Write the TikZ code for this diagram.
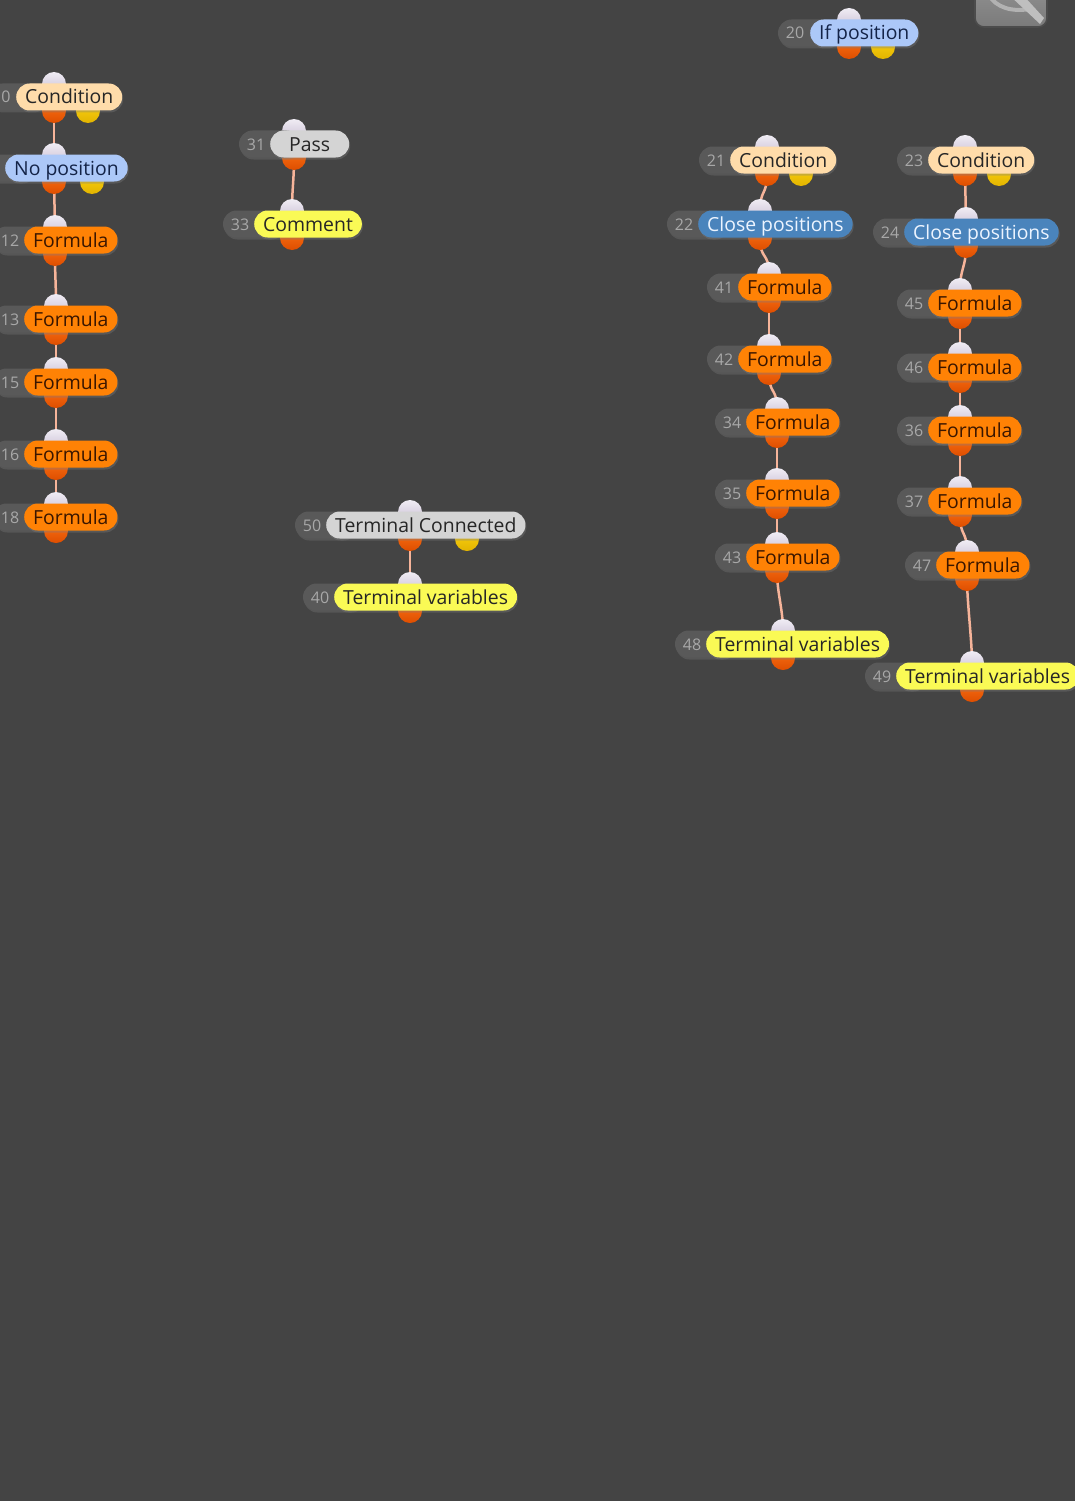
\documentclass[tikz,border=0pt]{standalone}
\usepackage{fontspec}
\setmainfont{Open Sans}
\usetikzlibrary{shadows}
\pgfdeclarelayer{back}
\pgfdeclarelayer{bg}
\pgfsetlayers{back,bg,main}

\definecolor{canvas}{HTML}{444444}
\definecolor{idgrey}{HTML}{595959}
\definecolor{idtext}{HTML}{A8A8A8}
\definecolor{condfill}{HTML}{FFDCAA}
\definecolor{posfill}{HTML}{ACC8F8}
\definecolor{formfill}{HTML}{FF8205}
\definecolor{greyfill}{HTML}{D4D4D4}
\definecolor{notefill}{HTML}{FAFA55}
\definecolor{closefill}{HTML}{4A84BC}
\definecolor{wirecol}{HTML}{F6B49A}

\tikzset{
  pill/.style={rectangle, rounded corners=13.5pt, minimum height=27pt,
    minimum width=79pt, inner xsep=9pt, inner ysep=0pt,
    text height=16pt, text depth=2pt, font=\fontsize{19.4}{22}\selectfont,
    drop shadow={shadow xshift=1pt, shadow yshift=-2pt, opacity=.35}},
  condbox/.style={pill, fill=condfill, text=black!85},
  posbox/.style={pill, fill=posfill, text={rgb,255:red,20;green,36;blue,72}},
  formbox/.style={pill, fill=formfill, text={rgb,255:red,58;green,22;blue,0}},
  greybox/.style={pill, fill=greyfill, text=black!85},
  notebox/.style={pill, fill=notefill, text=black!85},
  closebox/.style={pill, fill=closefill, text={rgb,255:red,236;green,244;blue,255}},
  idpill/.style={fill=idgrey, rounded corners=13.5pt,
    drop shadow={shadow xshift=1pt, shadow yshift=-2pt, opacity=.3}},
  idnum/.style={text=idtext, font=\fontsize{16}{18}\selectfont, inner sep=0pt,
    text height=12pt, text depth=0pt},
  inport/.style={circle, minimum size=24pt, inner sep=0pt,
    top color={rgb,255:red,240;green,236;blue,244}, bottom color={rgb,255:red,196;green,186;blue,208}},
  outport/.style={circle, minimum size=24pt, inner sep=0pt,
    top color={rgb,255:red,255;green,118;blue,24}, bottom color={rgb,255:red,222;green,78;blue,0}},
  yport/.style={circle, minimum size=24pt, inner sep=0pt,
    top color={rgb,255:red,255;green,214;blue,20}, bottom color={rgb,255:red,226;green,180;blue,0}},
  wire/.style={draw=wirecol, line width=2.5pt}
}

% name, id, label, style, grey left, pill left, y, in x, out x
\newcommand{\wblock}[9]{%
  \node[inport] (#1-in) at (#8,#7-13) {};
  \node[outport] (#1-out) at (#9,#7+14) {};
  \path[idpill] (#5,#7-13.5) rectangle (#6+30,#7+13.5);
  \node[idnum] (#1-id) at (#5+17,#7) {#2};
  \node[#4, anchor=west] (#1) at (#6,#7) {#3};
}
% name, x, y
\newcommand{\wyellow}[3]{\node[yport] (#1-yel) at (#2,#3+14) {};}

\begin{document}
\begin{tikzpicture}[x=1pt,y=-1pt]
\useasboundingbox (0,0) rectangle (1075,1501);
\begin{pgfonlayer}{back}
\fill[canvas] (0,0) rectangle (1075,1501);
\end{pgfonlayer}

% button in the corner
\draw[line width=1.6pt, draw=black!70, top color=black!38, bottom color=black!52,
  rounded corners=9pt] (975,-40) rectangle (1047,27);
\draw[line width=4pt, black!30] (988,-6) .. controls (996,8) and (1012,12) .. (1030,9);
\fill[black!25] (1008,-6) -- (1022,-6) -- (1044,18) -- (1040,24) -- cycle;

% left column
\wyellow{n0}{88}{97}
\wblock{n0}{0}{Condition}{condbox}{-11}{16}{97}{54}{54}
\wyellow{npos}{92}{168}
\wblock{npos}{}{No position}{posbox}{-40}{5}{168}{54}{54}
\wblock{n12}{12}{Formula}{formbox}{-7}{24}{240}{55}{55}
\wblock{n13}{13}{Formula}{formbox}{-7}{24}{319}{56}{56}
\wblock{n15}{15}{Formula}{formbox}{-7}{24}{382}{56}{56}
\wblock{n16}{16}{Formula}{formbox}{-7}{24}{454}{56}{56}
\wblock{n18}{18}{Formula}{formbox}{-7}{24}{517}{56}{56}

% middle
\wblock{n31}{31}{Pass}{greybox}{239}{270}{144}{294}{294}
\wblock{n33}{33}{Comment}{notebox}{223}{254}{224}{292}{292}
\wyellow{n50}{467}{525}
\wblock{n50}{50}{Terminal Connected}{greybox}{295}{326}{525}{410}{410}
\wblock{n40}{40}{Terminal variables}{notebox}{303}{334}{597}{410}{410}

% right columns
\wyellow{n20}{883}{33}
\wblock{n20}{20}{If position}{posbox}{778}{810}{33}{849}{849}
\wyellow{n21}{801}{160}
\wblock{n21}{21}{Condition}{condbox}{699}{730}{160}{767}{767}
\wblock{n22}{22}{Close positions}{closebox}{667}{698}{224}{760}{760}
\wblock{n41}{41}{Formula}{formbox}{707}{738}{287}{769}{769}
\wblock{n42}{42}{Formula}{formbox}{707}{738}{359}{769}{769}
\wblock{n34}{34}{Formula}{formbox}{715}{746}{422}{777}{777}
\wblock{n35}{35}{Formula}{formbox}{715}{746}{493}{777}{777}
\wblock{n43}{43}{Formula}{formbox}{715}{746}{557}{777}{777}
\wblock{n48}{48}{Terminal variables}{notebox}{675}{706}{644}{783}{783}

\wyellow{n23}{999}{160}
\wblock{n23}{23}{Condition}{condbox}{897}{928}{160}{965}{965}
\wblock{n24}{24}{Close positions}{closebox}{873}{904}{232}{966}{966}
\wblock{n45}{45}{Formula}{formbox}{897}{928}{303}{960}{960}
\wblock{n46}{46}{Formula}{formbox}{897}{928}{367}{960}{960}
\wblock{n36}{36}{Formula}{formbox}{897}{928}{430}{960}{960}
\wblock{n37}{37}{Formula}{formbox}{897}{928}{501}{960}{960}
\wblock{n47}{47}{Formula}{formbox}{905}{936}{565}{967}{967}
\wblock{n49}{49}{Terminal variables}{notebox}{865}{896}{676}{972}{972}

% links
\begin{pgfonlayer}{bg}
\foreach \a/\b in {n0/npos, npos/n12, n12/n13, n13/n15, n15/n16, n16/n18,
    n31/n33, n50/n40,
    n21/n22, n22/n41, n41/n42, n42/n34, n34/n35, n35/n43, n43/n48,
    n23/n24, n24/n45, n45/n46, n46/n36, n36/n37, n37/n47, n47/n49}
  \draw[wire] (\a-out.center) .. controls +(0,22) and +(0,-22) .. (\b-in.center);
\end{pgfonlayer}
\end{tikzpicture}
\end{document}
